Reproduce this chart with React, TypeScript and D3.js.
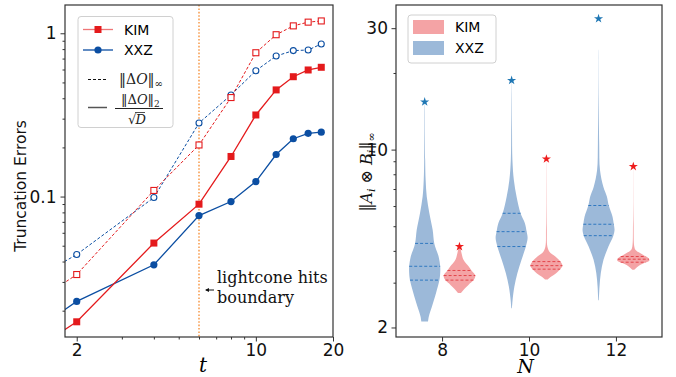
import React, { useEffect, useRef } from "react";
import * as d3 from "d3";

// left panel: truncation errors vs t
const times = [1, 2, 4, 6, 8, 10, 12, 14, 16, 18];
const kimInf = [0.0162, 0.0333, 0.109, 0.207, 0.404, 0.76, 0.98, 1.11, 1.17, 1.19];
const xxzInf = [0.0235, 0.0442, 0.0986, 0.282, 0.419, 0.59, 0.726, 0.783, 0.79, 0.86];
const kimTwo = [0.0084, 0.0171, 0.0519, 0.0898, 0.176, 0.316, 0.45, 0.542, 0.596, 0.619];
const xxzTwo = [0.0108, 0.0228, 0.0382, 0.0765, 0.0932, 0.1236, 0.181, 0.226, 0.244, 0.248];
const lightconeT = 6;
const tTicks = [2, 10, 20];
const tMinor = [3, 4, 5, 6, 7, 8, 9];
const errTicks = [0.1, 1];
const errMinor = [0.02, 0.03, 0.04, 0.05, 0.06, 0.07, 0.08, 0.09, 0.2, 0.3, 0.4, 0.5, 0.6, 0.7, 0.8, 0.9];

// right panel: violins, [value, relative width]
const sizes = ["8", "10", "12"];
const xxzN8 = [[15.2, 0.005], [14.7, 0.01], [9.11, 0.03], [7.6, 0.06], [6.53, 0.13], [5.64, 0.29], [4.83, 0.5], [4.28, 0.6], [3.8, 0.87], [3.47, 0.97], [3.27, 0.97], [3.07, 0.92], [2.73, 0.71], [2.41, 0.45], [2.21, 0.26], [2.11, 0.21]];
const xxzN10 = [[18.5, 0.005], [16.7, 0.01], [11.95, 0.025], [9.11, 0.05], [7.6, 0.14], [6.53, 0.31], [5.62, 0.56], [5.14, 0.83], [4.76, 0.94], [4.49, 1.0], [4.16, 0.89], [3.69, 0.62], [3.27, 0.36], [2.89, 0.17], [2.56, 0.06], [2.38, 0.02]];
const xxzN12 = [[24.7, 0.004], [22.5, 0.006], [15.7, 0.015], [10.6, 0.04], [8.32, 0.09], [7.15, 0.3], [6.54, 0.52], [6.03, 0.64], [5.45, 0.875], [5.1, 0.95], [4.84, 1.0], [4.58, 0.92], [4.16, 0.62], [3.69, 0.31], [3.27, 0.14], [2.89, 0.06], [2.56, 0.02]];
const kimN8 = [[4.16, 0.02], [4.1, 0.06], [3.97, 0.11], [3.68, 0.26], [3.47, 0.58], [3.35, 0.75], [3.2, 0.99], [3.07, 0.875], [2.94, 0.56], [2.81, 0.25], [2.73, 0.09]];
const kimN10 = [[9.19, 0.003], [6.16, 0.01], [4.83, 0.025], [4.16, 0.06], [3.97, 0.19], [3.8, 0.56], [3.63, 0.875], [3.5, 1.0], [3.39, 0.86], [3.27, 0.61], [3.17, 0.31], [3.09, 0.09]];
const kimN12 = [[8.58, 0.003], [6.25, 0.006], [5.06, 0.02], [4.16, 0.06], [4.03, 0.14], [3.92, 0.42], [3.82, 0.73], [3.74, 0.96], [3.66, 1.0], [3.6, 0.75], [3.52, 0.42], [3.44, 0.21], [3.37, 0.06]];
const xxzQuartiles = [[4.28, 3.48, 3.07], [5.62, 4.76, 4.16], [6.03, 5.09, 4.59]];
const kimQuartiles = [[3.35, 3.2, 3.07], [3.63, 3.5, 3.39], [3.8, 3.71, 3.61]];
const xxzMax = [15.4, 18.7, 32.7];
const kimMax = [4.16, 9.19, 8.58];
const normTicks = [2, 10, 30];
const normMinor = [3, 4, 5, 6, 7, 8, 9, 20];

const RED = "#e41a1c";
const BLUE = "#0b4ea2";
const SANS = "DejaVu Sans, sans-serif";
const SERIF = "DejaVu Serif, serif";

function styleAxis(g, size) {
  g.select(".domain").remove();
  g.selectAll("line").attr("stroke", "#333").attr("stroke-width", 1);
  g.selectAll("text").attr("font-family", SANS).attr("font-size", size).attr("fill", "#111");
}

function widthAt(profile, v) {
  for (let i = 0; i < profile.length - 1; i++) {
    const a = profile[i], b = profile[i + 1];
    if (v <= a[0] && v >= b[0]) {
      const f = (Math.log(a[0]) - Math.log(v)) / (Math.log(a[0]) - Math.log(b[0]));
      return a[1] + f * (b[1] - a[1]);
    }
  }
  return 0;
}

function drawLeft(svg) {
  const x = d3.scaleLog().domain([1.8, 20]).range([65, 333]);
  const y = d3.scaleLog().domain([0.0138, 1.49]).range([337, 5]);

  svg.append("defs").append("clipPath").attr("id", "clipL")
    .append("rect").attr("x", 65).attr("y", 5).attr("width", 268).attr("height", 332);

  const plot = svg.append("g").attr("clip-path", "url(#clipL)");

  // lightcone marker
  plot.append("line")
    .attr("x1", x(lightconeT)).attr("x2", x(lightconeT))
    .attr("y1", 5).attr("y2", 337)
    .attr("stroke", "#f8a055").attr("stroke-width", 1.6)
    .attr("stroke-dasharray", "1.6,1.8");

  const series = [
    { vals: xxzInf, color: BLUE, dash: "3,2", lw: 1, marker: "circle", open: true },
    { vals: kimInf, color: RED, dash: "3,2", lw: 1, marker: "square", open: true },
    { vals: xxzTwo, color: BLUE, dash: null, lw: 1.3, marker: "circle", open: false },
    { vals: kimTwo, color: RED, dash: null, lw: 1.3, marker: "square", open: false },
  ];

  series.forEach(function (s) {
    const line = d3.line().x((d, i) => x(times[i])).y((d) => y(d));
    plot.append("path")
      .attr("d", line(s.vals))
      .attr("fill", "none")
      .attr("stroke", s.color)
      .attr("stroke-width", s.lw)
      .attr("stroke-dasharray", s.dash);

    const pts = plot.selectAll(null).data(s.vals).enter();
    if (s.marker === "square") {
      const side = s.open ? 6 : 7;
      pts.append("rect")
        .attr("x", (d, i) => x(times[i]) - side / 2)
        .attr("y", (d) => y(d) - side / 2)
        .attr("width", side).attr("height", side)
        .attr("fill", s.open ? "white" : s.color)
        .attr("stroke", s.color).attr("stroke-width", s.open ? 1.1 : 0);
    } else {
      pts.append("circle")
        .attr("cx", (d, i) => x(times[i]))
        .attr("cy", (d) => y(d))
        .attr("r", s.open ? 3 : 3.6)
        .attr("fill", s.open ? "white" : s.color)
        .attr("stroke", s.color).attr("stroke-width", s.open ? 1.1 : 0);
    }
  });

  // axes
  const xa = svg.append("g").attr("transform", "translate(0,337)")
    .call(d3.axisBottom(x).tickValues(tTicks).tickFormat(d3.format("d")).tickSize(4.5).tickPadding(2.5));
  styleAxis(xa, 17);
  const xm = svg.append("g").attr("transform", "translate(0,337)")
    .call(d3.axisBottom(x).tickValues(tMinor).tickFormat(() => "").tickSize(2.5));
  styleAxis(xm, 17);

  const ya = svg.append("g").attr("transform", "translate(65,0)")
    .call(d3.axisLeft(y).tickValues(errTicks).tickFormat((d) => String(d)).tickSize(4.5).tickPadding(4));
  styleAxis(ya, 17);
  const ym = svg.append("g").attr("transform", "translate(65,0)")
    .call(d3.axisLeft(y).tickValues(errMinor).tickFormat(() => "").tickSize(2.5));
  styleAxis(ym, 17);

  svg.append("rect").attr("x", 65).attr("y", 5).attr("width", 268).attr("height", 332)
    .attr("fill", "none").attr("stroke", "#333").attr("stroke-width", 1.2);

  svg.append("text")
    .attr("transform", "translate(26,186) rotate(-90)")
    .attr("text-anchor", "middle")
    .attr("font-family", SANS).attr("font-size", 15.5).attr("fill", "#111")
    .text("Truncation Errors");

  svg.append("text").attr("x", 203).attr("y", 372)
    .attr("text-anchor", "middle").attr("font-family", SERIF)
    .attr("font-style", "italic").attr("font-size", 20).text("t");

  // annotation
  svg.append("line").attr("x1", 214).attr("x2", 206).attr("y1", 290).attr("y2", 290)
    .attr("stroke", "#111").attr("stroke-width", 1);
  svg.append("path").attr("d", "M205,290 L209,288 L209,292 Z").attr("fill", "#111");
  const ann = svg.append("text").attr("font-family", SERIF).attr("font-size", 16).attr("fill", "#111");
  ann.append("tspan").attr("x", 217).attr("y", 283).text("lightcone hits");
  ann.append("tspan").attr("x", 217).attr("y", 303).text("boundary");

  // legend
  const lg = svg.append("g");
  lg.append("rect").attr("x", 78).attr("y", 16.5).attr("width", 95).attr("height", 111).attr("rx", 3)
    .attr("fill", "white").attr("fill-opacity", 0.85).attr("stroke", "#d0d0d0").attr("stroke-width", 1);
  lg.append("line").attr("x1", 83).attr("x2", 113).attr("y1", 29.5).attr("y2", 29.5)
    .attr("stroke", RED).attr("stroke-opacity", 0.6).attr("stroke-width", 1.3);
  lg.append("rect").attr("x", 94.5).attr("y", 26).attr("width", 7).attr("height", 7).attr("fill", RED);
  lg.append("line").attr("x1", 83).attr("x2", 113).attr("y1", 50).attr("y2", 50)
    .attr("stroke", BLUE).attr("stroke-width", 1.3);
  lg.append("circle").attr("cx", 98).attr("cy", 50).attr("r", 3.6).attr("fill", BLUE);
  lg.append("text").attr("x", 124).attr("y", 34.5).attr("font-family", SANS).attr("font-size", 14).text("KIM");
  lg.append("text").attr("x", 124).attr("y", 55).attr("font-family", SANS).attr("font-size", 14).text("XXZ");
  lg.append("line").attr("x1", 88).attr("x2", 107).attr("y1", 79.5).attr("y2", 79.5)
    .attr("stroke", "#111").attr("stroke-width", 1).attr("stroke-dasharray", "3,2");
  lg.append("line").attr("x1", 88).attr("x2", 107).attr("y1", 107.5).attr("y2", 107.5)
    .attr("stroke", "#555").attr("stroke-width", 1.5);

  const m1 = lg.append("text").attr("x", 119).attr("y", 84).attr("font-family", SERIF).attr("font-size", 14).attr("fill", "#222");
  m1.append("tspan").text("‖Δ");
  m1.append("tspan").attr("font-style", "italic").text("O");
  m1.append("tspan").text("‖");
  m1.append("tspan").attr("font-size", 10).attr("dy", 3).text("∞");

  const m2 = lg.append("text").attr("x", 121).attr("y", 104).attr("font-family", SERIF).attr("font-size", 13).attr("fill", "#222");
  m2.append("tspan").text("‖Δ");
  m2.append("tspan").attr("font-style", "italic").text("O");
  m2.append("tspan").text("‖");
  m2.append("tspan").attr("font-size", 9).attr("dy", 3).text("2");
  lg.append("line").attr("x1", 115).attr("x2", 163).attr("y1", 108.5).attr("y2", 108.5)
    .attr("stroke", "#222").attr("stroke-width", 1);
  lg.append("text").attr("x", 128).attr("y", 124).attr("font-family", SERIF).attr("font-size", 13).attr("fill", "#222").text("√");
  lg.append("text").attr("x", 135.5).attr("y", 124).attr("font-family", SERIF).attr("font-style", "italic").attr("font-size", 13).attr("fill", "#222").text("D");
  lg.append("line").attr("x1", 135).attr("x2", 145).attr("y1", 112.5).attr("y2", 112.5)
    .attr("stroke", "#222").attr("stroke-width", 0.8);
}

function drawRight(svg) {
  const x = d3.scalePoint().domain(sizes).range([396, 662]).padding(0.53);
  const y = d3.scaleLog().domain([1.835, 37]).range([337, 5]);
  const step = x.step();
  const offset = 0.2 * step;
  const halfW = 0.184 * step;

  const groups = [
    { name: "XXZ", profiles: [xxzN8, xxzN10, xxzN12], quart: xxzQuartiles, maxv: xxzMax, side: -1,
      fill: "#9cb9d9", dashc: "#2f78c0", star: "#1f77b4" },
    { name: "KIM", profiles: [kimN8, kimN10, kimN12], quart: kimQuartiles, maxv: kimMax, side: 1,
      fill: "#f4a3a5", dashc: "#e3454b", star: "#ee1c1c" },
  ];

  groups.forEach(function (g) {
    sizes.forEach(function (n, i) {
      const cx = x(n) + g.side * offset;
      const prof = g.profiles[i];
      const area = d3.area()
        .y((d) => y(d[0]))
        .x0((d) => cx - d[1] * halfW)
        .x1((d) => cx + d[1] * halfW)
        .curve(d3.curveCatmullRom);
      svg.append("path").attr("d", area(prof)).attr("fill", g.fill);

      g.quart[i].forEach(function (q) {
        const w = widthAt(prof, q) * halfW;
        svg.append("line")
          .attr("x1", cx - w).attr("x2", cx + w)
          .attr("y1", y(q)).attr("y2", y(q))
          .attr("stroke", g.dashc).attr("stroke-width", 1)
          .attr("stroke-dasharray", "3,2");
      });

      svg.append("path")
        .attr("d", d3.symbol(d3.symbolStar, 26)())
        .attr("transform", "translate(" + cx + "," + y(g.maxv[i]) + ")")
        .attr("fill", g.star);
    });
  });

  const xa = svg.append("g").attr("transform", "translate(0,337)")
    .call(d3.axisBottom(x).tickSize(4.5).tickPadding(2.5));
  styleAxis(xa, 17);
  const ya = svg.append("g").attr("transform", "translate(396,0)")
    .call(d3.axisLeft(y).tickValues(normTicks).tickFormat((d) => String(d)).tickSize(4.5).tickPadding(3.5));
  styleAxis(ya, 17);
  const ym = svg.append("g").attr("transform", "translate(396,0)")
    .call(d3.axisLeft(y).tickValues(normMinor).tickFormat(() => "").tickSize(2.5));
  styleAxis(ym, 17);

  svg.append("rect").attr("x", 396).attr("y", 5).attr("width", 266).attr("height", 332)
    .attr("fill", "none").attr("stroke", "#333").attr("stroke-width", 1.2);

  svg.append("text").attr("x", 525.5).attr("y", 373)
    .attr("text-anchor", "middle").attr("font-family", SERIF)
    .attr("font-style", "italic").attr("font-size", 19).text("N");

  const yl = svg.append("text")
    .attr("transform", "translate(372,172) rotate(-90)")
    .attr("text-anchor", "middle").attr("font-family", SERIF).attr("font-size", 16).attr("fill", "#111");
  yl.append("tspan").text("‖");
  yl.append("tspan").attr("font-style", "italic").text("A");
  yl.append("tspan").attr("font-style", "italic").attr("font-size", 11).attr("dy", 3).text("i");
  yl.append("tspan").attr("dy", -3).text(" ⊗ ");
  yl.append("tspan").attr("font-style", "italic").text("B");
  yl.append("tspan").attr("font-style", "italic").attr("font-size", 11).attr("dy", 3).text("i");
  yl.append("tspan").attr("dy", -3).text("‖");
  yl.append("tspan").attr("font-size", 11).attr("dy", 3).text("∞");

  // legend
  const lg = svg.append("g");
  lg.append("rect").attr("x", 408).attr("y", 15).attr("width", 88).attr("height", 48).attr("rx", 3)
    .attr("fill", "white").attr("fill-opacity", 0.85).attr("stroke", "#d0d0d0");
  lg.append("rect").attr("x", 413).attr("y", 20).attr("width", 31).attr("height", 14).attr("fill", groups[1].fill);
  lg.append("rect").attr("x", 413).attr("y", 41).attr("width", 31).attr("height", 14).attr("fill", groups[0].fill);
  lg.append("text").attr("x", 455).attr("y", 32).attr("font-family", SANS).attr("font-size", 14).text("KIM");
  lg.append("text").attr("x", 455).attr("y", 53).attr("font-family", SANS).attr("font-size", 14).text("XXZ");
}

export default function App() {
  const ref = useRef(null);

  useEffect(() => {
    const svg = d3.select(ref.current);
    svg.selectAll("*").remove();
    drawLeft(svg);
    drawRight(svg);
  }, []);

  return (
    <svg
      ref={ref}
      width={676}
      height={377}
      style={{ position: "absolute", left: 0, top: 0, background: "white" }}
    />
  );
}
